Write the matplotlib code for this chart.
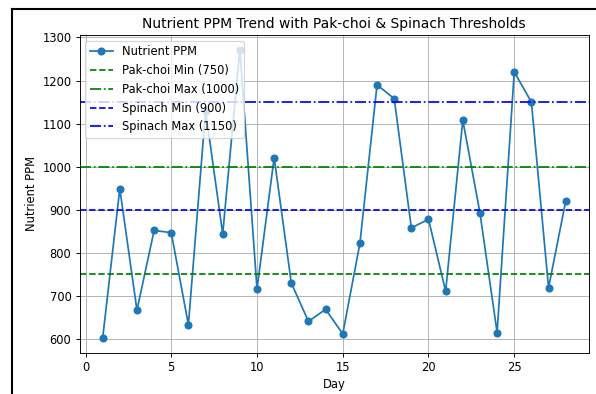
import matplotlib
matplotlib.use('Agg')
import matplotlib.pyplot as plt
from matplotlib.lines import Line2D

days = list(range(1, 29))
ppm = [602, 949, 667, 852, 847, 633, 1130, 844, 1272, 716,
       1021, 730, 641, 669, 612, 822, 1190, 1158, 858, 878,
       711, 1108, 893, 615, 1220, 1150, 719, 920]

pakchoi_min, pakchoi_max = 750, 1000
spinach_min, spinach_max = 900, 1150

DPI = 83
fig, ax = plt.subplots(figsize=(596 / DPI, 394 / DPI), dpi=DPI)
plt.subplots_adjust(left=0.1334, right=0.988, bottom=0.105, top=0.911)

ax.plot(days, ppm, marker='o', label='Nutrient PPM')
ax.axhline(pakchoi_min, color='g', linestyle='--', label=f'Pak-choi Min ({pakchoi_min})')
ax.axhline(pakchoi_max, color='g', linestyle='-.', label=f'Pak-choi Max ({pakchoi_max})')
ax.axhline(spinach_min, color='b', linestyle='--', label=f'Spinach Min ({spinach_min})')
ax.axhline(spinach_max, color='b', linestyle='-.', label=f'Spinach Max ({spinach_max})')

ax.set_title('Nutrient PPM Trend with Pak-choi & Spinach Thresholds')
ax.set_xlabel('Day')
ax.set_ylabel('Nutrient PPM')
ax.grid(True)
ax.legend(loc='upper left')

# black frame around the figure (cut off at right/bottom in the reference)
x0 = 11.5 / 596
y0 = 1 - 9 / 394
fig.add_artist(Line2D([x0, x0], [0.0, y0], transform=fig.transFigure,
                      color='black', linewidth=1.8, solid_capstyle='projecting'))
fig.add_artist(Line2D([x0, 1.0], [y0, y0], transform=fig.transFigure,
                      color='black', linewidth=1.8, solid_capstyle='projecting'))

fig.savefig('out.png', dpi=DPI)
